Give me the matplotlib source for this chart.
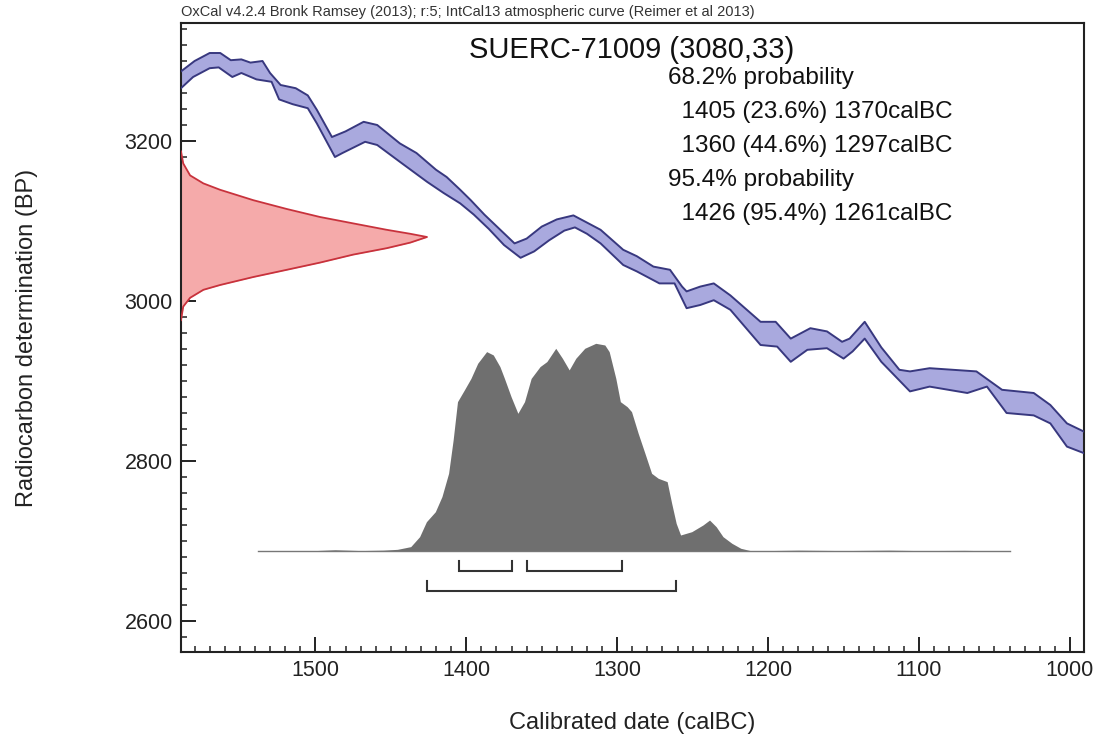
import matplotlib
matplotlib.use("Agg")
import matplotlib.pyplot as plt
from matplotlib.ticker import MultipleLocator
import numpy as np

plt.rcParams['font.family'] = ['Liberation Sans', 'DejaVu Sans']

# IntCal13 band, upper edge (calBC, BP)
hi_years = [1589, 1580, 1570, 1563, 1556, 1549, 1543, 1535, 1530, 1523, 1513, 1505,
            1499, 1489, 1480, 1468, 1459, 1444, 1433, 1420, 1413, 1404, 1397, 1388,
            1378, 1368, 1360, 1350, 1340, 1329, 1320, 1311, 1296, 1287, 1276, 1265,
            1257, 1254, 1245, 1236, 1225, 1205, 1195, 1185, 1172, 1161, 1151, 1146,
            1136, 1125, 1113, 1106, 1093, 1062, 1045, 1024, 1013, 1002, 991]
hi_bp = [3287, 3300, 3310, 3310, 3301, 3302, 3298, 3300, 3285, 3270, 3266, 3257,
         3239, 3205, 3212, 3224, 3220, 3197, 3185, 3164, 3155, 3139, 3126, 3108,
         3090, 3072, 3078, 3093, 3102, 3107, 3098, 3089, 3064, 3056, 3043, 3039,
         3018, 3012, 3018, 3022, 3007, 2974, 2974, 2953, 2966, 2962, 2949, 2953,
         2974, 2942, 2914, 2912, 2916, 2912, 2889, 2885, 2870, 2847, 2837]

# IntCal13 band, lower edge
lo_years = [1589, 1581, 1570, 1564, 1555, 1549, 1539, 1529, 1524, 1515, 1505, 1499,
            1487, 1482, 1467, 1459, 1444, 1426, 1415, 1404, 1395, 1385, 1375, 1364,
            1355, 1345, 1335, 1328, 1320, 1311, 1296, 1287, 1272, 1262, 1254, 1245,
            1236, 1225, 1205, 1194, 1185, 1174, 1161, 1150, 1144, 1136, 1125, 1106,
            1093, 1068, 1055, 1042, 1024, 1013, 1002, 991]
lo_bp = [3266, 3280, 3291, 3292, 3280, 3285, 3277, 3274, 3252, 3246, 3241, 3222,
         3180, 3185, 3199, 3195, 3174, 3149, 3135, 3122, 3108, 3090, 3070, 3054,
         3062, 3076, 3088, 3092, 3084, 3072, 3045, 3037, 3022, 3022, 2991, 2995,
         3001, 2989, 2945, 2943, 2924, 2939, 2941, 2928, 2937, 2953, 2924, 2887,
         2893, 2885, 2893, 2860, 2857, 2847, 2818, 2810]

# measured date 3080 +/- 33 BP, relative probability
date_bp = [3187, 3172, 3157, 3147, 3139, 3126, 3115, 3105, 3097, 3089, 3084, 3080,
           3073, 3066, 3058, 3048, 3039, 3030, 3020, 3014, 3004, 2993, 2976]
date_p = [0, .009, .037, .091, .159, .294, .43, .565, .70, .836, .932, 1.0,
          .932, .836, .70, .565, .43, .294, .159, .091, .037, .009, 0]

# calibrated probability (calBC, relative)
cal_years = [1538, 1500, 1487, 1470, 1455, 1445.6, 1436.8, 1430.9, 1426.4, 1420.5,
             1416.1, 1411.7, 1408.7, 1405.8, 1401.3, 1396.9, 1392.4, 1386.5, 1382.1,
             1377.7, 1374.7, 1370.3, 1365.8, 1361.4, 1357, 1351.1, 1346.6, 1340.7,
             1336.3, 1331.8, 1327.4, 1321.5, 1314.2, 1308.2, 1305.3, 1300.9, 1297.9,
             1293.4, 1290.5, 1286.1, 1281.6, 1277.2, 1272.8, 1266.9, 1263.9, 1260.9,
             1258, 1250.6, 1243.2, 1238.8, 1234.4, 1229.9, 1224, 1218.1, 1210.7,
             1200, 1180, 1150, 1120, 1100, 1070, 1040]
cal_p = [0, .002, .006, .002, .004, .008, .021, .069, .141, .189,
         .262, .374, .534, .719, .775, .831, .904, .960, .944,
         .888, .831, .743, .663, .719, .831, .888, .912, .976,
         .928, .872, .928, .976, 1.0, .992, .960, .831, .719,
         .695, .671, .567, .470, .374, .350, .334, .230, .133,
         .077, .093, .125, .149, .117, .069, .037, .013, .0,
         .002, .004, .002, .004, .002, .003, 0]

# calibrated ranges
r68_from = [1405, 1360]
r68_pct = [23.6, 44.6]
r68_to = [1370, 1297]
r95_from = [1426]
r95_pct = [95.4]
r95_to = [1261]

W, H = 1102, 747
fig = plt.figure(figsize=(W / 100, H / 100), dpi=100)
fig.set_facecolor('white')
ax = fig.add_axes([181 / W, 1 - 652 / H, 903 / W, 629 / H])
x_left, x_right = 1589, 990.7
ax.set_xlim(x_left, x_right)
ax.set_ylim(2561.25, 3347.5)

# calibration curve band
band_x = np.concatenate([hi_years, lo_years[::-1]])
band_y = np.concatenate([hi_bp, lo_bp[::-1]])
ax.fill(band_x, band_y, color='#a9a9de', lw=0, zorder=2)
ax.plot(hi_years, hi_bp, color='#38387f', lw=1.4, zorder=3)
ax.plot(lo_years, lo_bp, color='#38387f', lw=1.4, zorder=3)

# radiocarbon measurement on the y axis
red_w = 163
ax.fill_betweenx(date_bp, x_left, x_left - np.array(date_p) * red_w,
                 color='#f5aaaa', lw=0, zorder=2)
ax.plot(x_left - np.array(date_p) * red_w, date_bp, color='#c8323c', lw=1.3, zorder=3)

# calibrated distribution
base = 2687.5
gray_h = 259.6
ax.fill_between(cal_years, base, base + np.array(cal_p) * gray_h,
                color='#6f6f6f', lw=0, zorder=2)
ax.plot([cal_years[0], cal_years[-1]], [base, base], color='#777777', lw=1, zorder=2)

# range brackets
def bracket(x0, x1, y, tick=12.5):
    ax.plot([x0, x0, x1, x1], [y + tick, y, y, y + tick], color='#333333', lw=1.5,
            solid_joinstyle='miter', zorder=3)

for a, b in zip(r68_from, r68_to):
    bracket(a, b, 2662.5)
for a, b in zip(r95_from, r95_to):
    bracket(a, b, 2637.5)

# axes styling
for s in ax.spines.values():
    s.set_linewidth(1.5)
    s.set_color('#222222')
ax.xaxis.set_major_locator(MultipleLocator(100))
ax.xaxis.set_minor_locator(MultipleLocator(10))
ax.yaxis.set_major_locator(MultipleLocator(200))
ax.yaxis.set_minor_locator(MultipleLocator(20))
ax.tick_params(which='both', direction='in', top=False, right=False, colors='#222222')
ax.tick_params(which='major', length=11, width=1.4, labelsize=15.5, pad=6)
ax.tick_params(which='minor', length=4.5, width=1.1)
ax.set_xlabel('Calibrated date (calBC)', fontsize=17, labelpad=22, color='#222222')
ax.set_ylabel('Radiocarbon determination (BP)', fontsize=17, labelpad=62, color='#222222')

fig.text(181 / W, 1 - 12 / H,
         'OxCal v4.2.4 Bronk Ramsey (2013); r:5; IntCal13 atmospheric curve (Reimer et al 2013)',
         fontsize=10.5, color='#333333', va='center', ha='left')

fig.text(632 / W, 1 - 50 / H, 'SUERC-71009 (3080,33)', fontsize=21,
         ha='center', va='center', color='#111111')

lines = ['68.2% probability']
lines += ['  %d (%.1f%%) %dcalBC' % t for t in zip(r68_from, r68_pct, r68_to)]
lines += ['95.4% probability']
lines += ['  %d (%.1f%%) %dcalBC' % t for t in zip(r95_from, r95_pct, r95_to)]
for i, s in enumerate(lines):
    fig.text(668 / W, 1 - (78 + 34 * i) / H, s, fontsize=17.5, ha='left',
             va='center', color='#111111')

fig.savefig('out.png', dpi=100, facecolor='white')
